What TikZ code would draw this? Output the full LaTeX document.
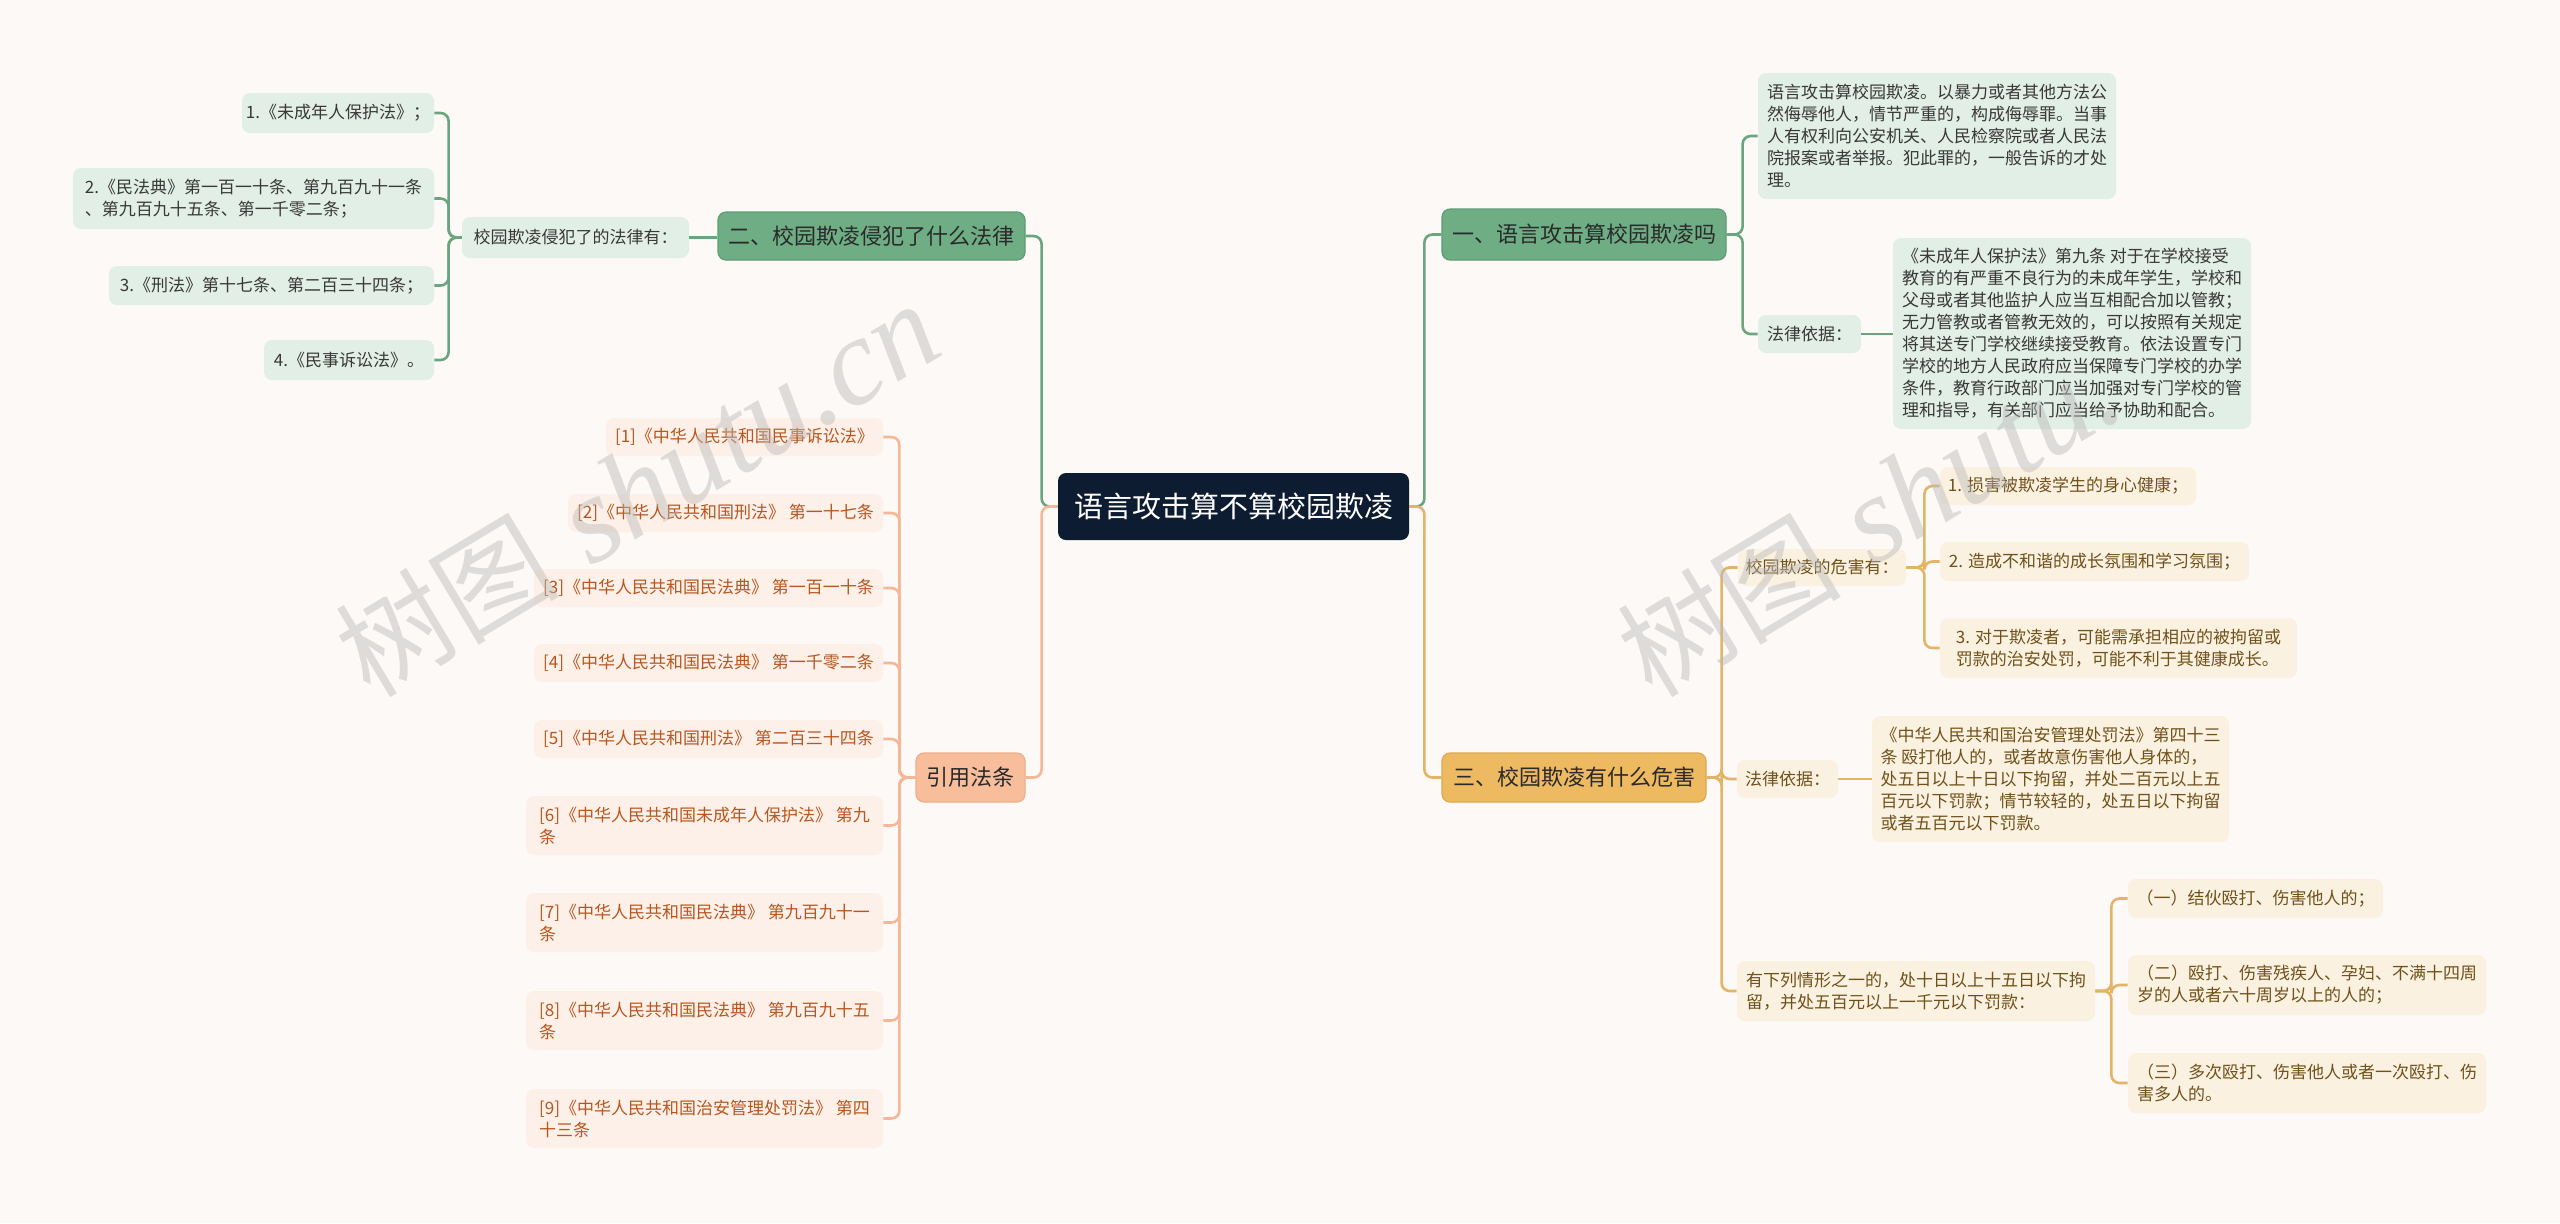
\documentclass[tikz,border=0pt]{standalone}
\usepackage{fontspec}
\newfontfamily\cjk{Noto Sans CJK SC}
\newfontfamily\wmserif{Liberation Serif}
\definecolor{bgc}{HTML}{FCF9F7}
\definecolor{rootc}{HTML}{0E1C31}
\definecolor{gmainc}{HTML}{6FAE84}
\definecolor{gmaind}{HTML}{5E9C73}
\definecolor{glight}{HTML}{E2EFE6}
\definecolor{gline}{HTML}{6AA57E}
\definecolor{gtext}{HTML}{383838}
\definecolor{ymainc}{HTML}{EDB961}
\definecolor{ymaind}{HTML}{DDA84F}
\definecolor{ylight}{HTML}{FBF1E1}
\definecolor{yline}{HTML}{E2B566}
\definecolor{ytext}{HTML}{6F5119}
\definecolor{omainc}{HTML}{F8BD9B}
\definecolor{omaind}{HTML}{EFAE8A}
\definecolor{olight}{HTML}{FDF0E8}
\definecolor{oline}{HTML}{F4B898}
\definecolor{otext}{HTML}{B8561E}
\definecolor{maintext}{HTML}{2A2A2A}
\begin{document}
\begin{tikzpicture}[x=0.5pt,y=-0.5pt,
  box/.style={rounded corners=4pt, inner sep=0pt, align=left,
    font={\cjk\fontsize{8.5}{11}\selectfont}},
  rootbox/.style={box, fill=rootc, text=white, font={\cjk\fontsize{14.5}{17}\selectfont}},
  mainbox/.style={box, line width=0.6pt, text=maintext, font={\cjk\fontsize{11}{13}\selectfont}},
  gmain/.style={mainbox, fill=gmainc, draw=gmaind},
  ymain/.style={mainbox, fill=ymainc, draw=ymaind},
  omain/.style={mainbox, fill=omainc, draw=omaind},
  gsub/.style={box, fill=glight, text=gtext},
  ysub/.style={box, fill=ylight, text=ytext},
  osub/.style={box, fill=olight, text=otext},
  conn/.style={line width=1.3pt, rounded corners=4pt},
  gconn/.style={conn, draw=gline},
  yconn/.style={conn, draw=yline},
  oconn/.style={conn, draw=oline},
  wm/.style={text=gray!55, opacity=0.45, rotate=31, anchor=base west, inner sep=0pt},
  wmcjk/.style={wm, font={\cjk\fontsize{56}{56}\selectfont}},
  wmlat/.style={wm, font={\wmserif\itshape\fontsize{62}{62}\selectfont}}
]
\fill[bgc] (0,0) rectangle (2560,1223);
\useasboundingbox (0,0) rectangle (2560,1223);

% root
\node[rootbox, minimum width=175.5pt, minimum height=33.5pt] (root) at (1233.5,506.5) {语言攻击算不算校园欺凌};

% main branches
\node[gmain, minimum width=153.5pt, minimum height=24pt] (b2) at (871.5,236) {二、校园欺凌侵犯了什么法律};
\node[omain, minimum width=54.5pt, minimum height=24.5pt] (cite) at (970.5,777.5) {引用法条};
\node[gmain, minimum width=142pt, minimum height=25.5pt] (b1) at (1584,234.5) {一、语言攻击算校园欺凌吗};
\node[ymain, minimum width=132pt, minimum height=24.5pt] (b3) at (1574,777.5) {三、校园欺凌有什么危害};

% branch 2 children
\node[gsub, minimum width=113.5pt, minimum height=20.5pt] (l0) at (575.5,237.5) {校园欺凌侵犯了的法律有：};
\node[gsub, minimum width=96pt, minimum height=20pt] (l1) at (338,113) {1.《未成年人保护法》；};
\node[gsub, minimum width=180.5pt, minimum height=30.5pt] (l2) at (253.5,198.5) {2.《民法典》第一百一十条、第九百九十一条\\、第九百九十五条、第一千零二条；};
\node[gsub, minimum width=162.5pt, minimum height=19.5pt] (l3) at (271.5,285.5) {3.《刑法》第十七条、第二百三十四条；};
\node[gsub, minimum width=85pt, minimum height=20pt] (l4) at (349,360) {4.《民事诉讼法》。};

% cited laws
\node[osub, minimum width=138.5pt, minimum height=19pt] (r1) at (744.5,437) {[1]《中华人民共和国民事诉讼法》};
\node[osub, minimum width=157.5pt, minimum height=19pt] (r2) at (725.5,513) {[2]《中华人民共和国刑法》 第一十七条};
\node[osub, minimum width=174.5pt, minimum height=19pt] (r3) at (708.5,588) {[3]《中华人民共和国民法典》 第一百一十条};
\node[osub, minimum width=174.5pt, minimum height=19pt] (r4) at (708.5,663) {[4]《中华人民共和国民法典》 第一千零二条};
\node[osub, minimum width=174.5pt, minimum height=19pt] (r5) at (708.5,739) {[5]《中华人民共和国刑法》 第二百三十四条};
\node[osub, minimum width=178.5pt, minimum height=29.5pt] (r6) at (704.5,825.5) {[6]《中华人民共和国未成年人保护法》 第九\\条};
\node[osub, minimum width=178.5pt, minimum height=29.5pt] (r7) at (704.5,922.5) {[7]《中华人民共和国民法典》 第九百九十一\\条};
\node[osub, minimum width=178.5pt, minimum height=29.5pt] (r8) at (704.5,1020.5) {[8]《中华人民共和国民法典》 第九百九十五\\条};
\node[osub, minimum width=178.5pt, minimum height=29.5pt] (r9) at (704.5,1118.5) {[9]《中华人民共和国治安管理处罚法》 第四\\十三条};

% branch 1 children
\node[gsub, minimum width=179pt, minimum height=63pt] (g1) at (1937,136) {语言攻击算校园欺凌。以暴力或者其他方法公\\然侮辱他人，情节严重的，构成侮辱罪。当事\\人有权利向公安机关、人民检察院或者人民法\\院报案或者举报。犯此罪的，一般告诉的才处\\理。};
\node[gsub, minimum width=51.5pt, minimum height=19pt] (g2) at (1809.5,334) {法律依据：};
\node[gsub, minimum width=179pt, minimum height=95.5pt] (g3) at (2072,333.5) {《未成年人保护法》第九条 对于在学校接受\\教育的有严重不良行为的未成年学生，学校和\\父母或者其他监护人应当互相配合加以管教；\\无力管教或者管教无效的，可以按照有关规定\\将其送专门学校继续接受教育。依法设置专门\\学校的地方人民政府应当保障专门学校的办学\\条件，教育行政部门应当加强对专门学校的管\\理和指导，有关部门应当给予协助和配合。};

% branch 3 children
\node[ysub, minimum width=84pt, minimum height=18.5pt] (y1) at (1822,567.5) {校园欺凌的危害有：};
\node[ysub, minimum width=128pt, minimum height=19pt] (y11) at (2068,486) {1. 损害被欺凌学生的身心健康；};
\node[ysub, minimum width=154.5pt, minimum height=19.5pt] (y12) at (2094.5,561.5) {2. 造成不和谐的成长氛围和学习氛围；};
\node[ysub, minimum width=178.5pt, minimum height=30pt] (y13) at (2118.5,648) {3. 对于欺凌者，可能需承担相应的被拘留或\\罚款的治安处罚，可能不利于其健康成长。};
\node[ysub, minimum width=50.5pt, minimum height=19pt] (y2) at (1787.5,779) {法律依据：};
\node[ysub, minimum width=178.5pt, minimum height=63pt] (y21) at (2050.5,779) {《中华人民共和国治安管理处罚法》第四十三\\条 殴打他人的，或者故意伤害他人身体的，\\处五日以上十日以下拘留，并处二百元以上五\\百元以下罚款；情节较轻的，处五日以下拘留\\或者五百元以下罚款。};
\node[ysub, minimum width=179pt, minimum height=30pt] (y3) at (1916,991) {有下列情形之一的，处十日以上十五日以下拘\\留，并处五百元以上一千元以下罚款：};
\node[ysub, minimum width=127.5pt, minimum height=19.5pt] (y31) at (2255.5,898.5) {（一）结伙殴打、伤害他人的；};
\node[ysub, minimum width=179pt, minimum height=30pt] (y32) at (2307,985) {（二）殴打、伤害残疾人、孕妇、不满十四周\\岁的人或者六十周岁以上的人的；};
\node[ysub, minimum width=179pt, minimum height=30pt] (y33) at (2307,1083) {（三）多次殴打、伤害他人或者一次殴打、伤\\害多人的。};

% connectors: root
\draw[gconn] (root.west) -- ++(-8pt,0) |- (b2.east);
\draw[oconn] (root.west) -- ++(-8pt,0) |- (cite.east);
\draw[gconn] (root.east) -- ++(7.5pt,0) |- (b1.west);
\draw[yconn] (root.east) -- ++(7.5pt,0) |- (b3.west);

% branch 2
\draw[gconn] (l0.east) -- (l0.east -| b2.west);
\foreach \c in {l1,l2,l3,l4}
  \draw[gconn] (l0.west) -- ++(-6.5pt,0) |- (\c.east);

% cited
\foreach \c in {r1,r2,r3,r4,r5,r6,r7,r8,r9}
  \draw[oconn] (cite.west) -- ++(-8pt,0) |- (\c.east);

% branch 1
\draw[gconn] (b1.east) -- ++(8pt,0) |- (g1.west);
\draw[gconn] (b1.east) -- ++(8pt,0) |- (g2.west);
\draw[gconn] (g2.east) -- (g2.east -| g3.west);

% branch 3
\foreach \c in {y1,y2,y3}
  \draw[yconn] (b3.east) -- ++(7.5pt,0) |- (\c.west);
\foreach \c in {y11,y12,y13}
  \draw[yconn] (y1.east) -- ++(9pt,0) |- (\c.west);
\draw[yconn] (y2.east) -- (y2.east -| y21.west);
\foreach \c in {y31,y32,y33}
  \draw[yconn] (y3.east) -- ++(8pt,0) |- (\c.west);

% watermarks
\node[wmcjk] (wmA1) at (370,700) {树图};
\node[wmlat] (wmA2) at ([shift={(31:16pt)}]wmA1.base east) {shutu.cn};
\node[wmcjk] (wmB1) at (1652,700) {树图};
\node[wmlat] (wmB2) at ([shift={(31:16pt)}]wmB1.base east) {shutu.};
\end{tikzpicture}
\end{document}
